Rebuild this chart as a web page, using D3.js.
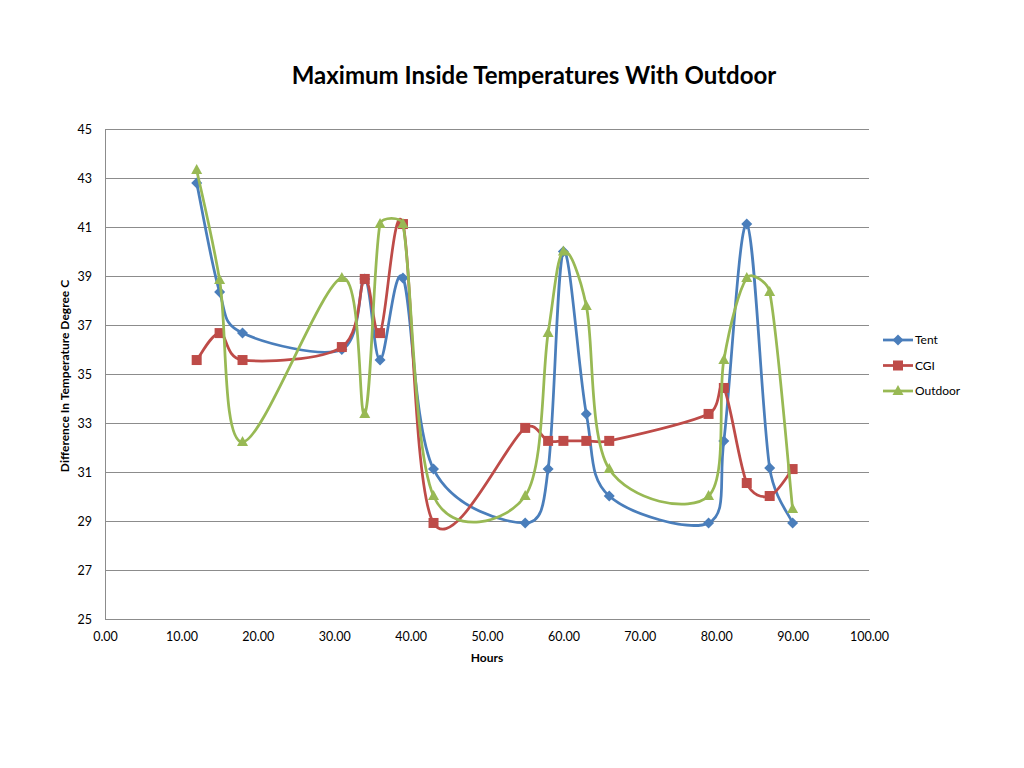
<!DOCTYPE html>
<html><head><meta charset="utf-8">
<script src="https://cdn.jsdelivr.net/npm/d3@7/dist/d3.min.js"></script>
<style>body{margin:0;background:#fff}svg{display:block}text{font-family:Lato,"Open Sans",sans-serif}</style>
</head><body><svg id="c" width="1024" height="768"></svg>
<script>
const hours = [12,15,18,31,34,36,39,43,55,58,60,63,66,79,81,84,87,90];
const tent = [42.8,38.35,36.67,36.0,38.88,35.57,38.92,31.12,28.92,31.12,40.0,33.37,30.02,28.92,32.27,41.12,31.16,28.92];
const cgi = [35.57,36.67,35.57,36.1,38.88,36.67,41.12,28.92,32.8,32.27,32.27,32.27,32.27,33.37,34.43,30.55,30.02,31.12];
const outdoor = [43.33,38.84,32.22,38.92,33.37,41.12,41.12,30.02,30.02,36.67,40.0,37.78,31.12,30.02,35.57,38.92,38.35,29.49];
const seriesNames = ["Tent","CGI","Outdoor"];
const colors = ["#4A7EBB","#BE4B48","#98B954"];
const markerTypes = ["diamond","square","triangle"];
const xTicks = [0,10,20,30,40,50,60,70,80,90,100];
const yTicks = [25,27,29,31,33,35,37,39,41,43,45];

const svg = d3.select("#c");
const L=105,R=869,T=129,B=619;
const x = d3.scaleLinear().domain([0,100]).range([L,R]);
const y = d3.scaleLinear().domain([25,45]).range([B,T]);

svg.append("text").attr("x",534).attr("y",84).attr("text-anchor","middle")
  .attr("font-size",24).attr("font-weight","bold").attr("fill","#000")
  .text("Maximum Inside Temperatures With Outdoor");

// grid
svg.append("g").selectAll("line").data(yTicks.slice(1)).join("line")
  .attr("x1",L).attr("x2",R).attr("y1",d=>y(d)).attr("y2",d=>y(d))
  .attr("stroke","#8c8c8c").attr("stroke-width",1).attr("shape-rendering","crispEdges");

const xa = svg.append("g").attr("transform",`translate(0,${B})`)
  .call(d3.axisBottom(x).tickValues(xTicks).tickFormat(d3.format(".2f")).tickSize(0).tickPadding(13));
const ya = svg.append("g").attr("transform",`translate(${L},0)`)
  .call(d3.axisLeft(y).tickValues(yTicks).tickSize(0).tickPadding(13));
[xa,ya].forEach(a=>{
  a.selectAll("path,line").attr("stroke","#8c8c8c").attr("shape-rendering","crispEdges");
  a.selectAll("text").attr("font-size",12.5).attr("fill","#000").attr("font-family","Lato,'Open Sans',sans-serif");
});

svg.append("text").attr("x",487).attr("y",662).attr("text-anchor","middle")
  .attr("font-size",12).attr("font-weight","bold").text("Hours");
svg.append("text").attr("transform","translate(69,376) rotate(-90)").attr("text-anchor","middle")
  .attr("font-size",12).attr("font-weight","bold").text("Difference In Temperature Degree C");

const data = [tent,cgi,outdoor];

// Excel-like smoothing: Catmull-Rom (1/6) control arms, limited relative to segment length
function smoothPath(pts){
  const p = d3.path();
  const n = pts.length;
  const dist=(a,b)=>Math.hypot(b[0]-a[0],b[1]-a[1]);
  p.moveTo(pts[0][0],pts[0][1]);
  for(let i=0;i<n-1;i++){
    const p0 = pts[Math.max(i-1,0)], p1=pts[i], p2=pts[i+1], p3=pts[Math.min(i+2,n-1)];
    const d12 = dist(p1,p2), h = d12/2;
    let v0 = [(p2[0]-p0[0])/6,(p2[1]-p0[1])/6], v1 = [(p3[0]-p1[0])/6,(p3[1]-p1[1])/6];
    const a0 = Math.hypot(v0[0],v0[1]), a1 = Math.hypot(v1[0],v1[1]);
    let t0 = a0, t1 = a1;
    if(a0>=h && a1>=h){ t0 = d12/3; t1 = d12/3; }
    else if(a0>=h){ t0 = h; }
    else if(a1>=h){ t1 = h; }
    if(a0>0){ v0=[v0[0]*t0/a0, v0[1]*t0/a0]; }
    if(a1>0){ v1=[v1[0]*t1/a1, v1[1]*t1/a1]; }
    p.bezierCurveTo(p1[0]+v0[0],p1[1]+v0[1],p2[0]-v1[0],p2[1]-v1[1],p2[0],p2[1]);
  }
  return p.toString();
}

function marker(g,type,color){
  if(type==="diamond") g.append("path").attr("d","M0,-5.5L5.5,0L0,5.5L-5.5,0Z").attr("fill",color);
  else if(type==="square") g.append("rect").attr("x",-5).attr("y",-5).attr("width",10).attr("height",10).attr("fill",color);
  else g.append("path").attr("d","M0,-6L5.5,4L-5.5,4Z").attr("fill",color);
}

data.forEach((vals,i)=>{
  const pts = hours.map((h,j)=>[x(h),y(vals[j])]);
  svg.append("path").attr("d",smoothPath(pts)).attr("fill","none").attr("stroke",colors[i]).attr("stroke-width",2.75);
  pts.forEach(p=>{
    const g = svg.append("g").attr("transform",`translate(${p[0]},${p[1]})`);
    marker(g,markerTypes[i],colors[i]);
  });
});

// legend
seriesNames.forEach((n,i)=>{
  const ly = 340 + i*25.5;
  svg.append("line").attr("x1",883).attr("x2",913).attr("y1",ly).attr("y2",ly).attr("stroke",colors[i]).attr("stroke-width",2.75);
  const g = svg.append("g").attr("transform",`translate(898,${ly})`);
  marker(g,markerTypes[i],colors[i]);
  svg.append("text").attr("x",915).attr("y",ly+4).attr("font-size",12).text(n);
});
</script></body></html>
